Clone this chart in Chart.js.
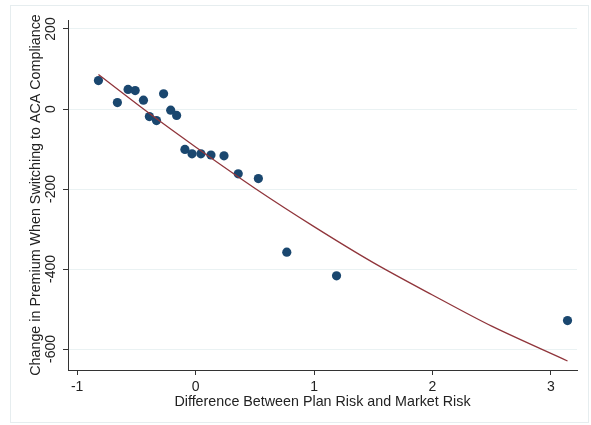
<!DOCTYPE html>
<html>
<head>
<meta charset="utf-8">
<script src="https://cdn.jsdelivr.net/npm/chart.js@4/dist/chart.umd.min.js"></script>
<style>
  html, body { margin: 0; padding: 0; background: #fff; }
  #wrap { width: 591px; height: 425px; }
</style>
</head>
<body>
<div id="wrap"><canvas id="chart"></canvas></div>
<script>
// tick labels
const xTicks = [-1, 0, 1, 2, 3];
const yTicks = [-600, -400, -200, 0, 200];

// binned scatter: difference between plan risk and market risk vs premium change
const riskDiff = [-0.82, -0.66, -0.57, -0.51, -0.44, -0.39, -0.33, -0.27, -0.21, -0.16,
  -0.09, -0.03, 0.045, 0.13, 0.24, 0.36, 0.53, 0.77, 1.19, 3.14];
const premiumChange = [71, 16, 49, 46, 22, -19, -29, 38, -3, -16,
  -101, -112, -112, -115, -117, -162, -174, -358, -417, -529];

// fitted curve
const fitX = [-0.82, -0.4, 0, 0.5, 1, 1.5, 2, 2.5, 3.14];
const fitY = [86, -9, -95, -198, -294, -384, -465, -543, -630];

const font = 'Liberation Sans, Arial, sans-serif';

const toPoints = (xs, ys) => xs.map((x, i) => ({ x, y: ys[i] }));

const decor = {
  id: 'decor',
  beforeDraw(chart) {
    const ctx = chart.ctx;
    ctx.save();
    ctx.strokeStyle = '#e6edef';
    ctx.lineWidth = 1;
    ctx.strokeRect(10.5, 5.5, 578, 417);
    ctx.restore();
  },
  afterDraw(chart) {
    // vertical y tick labels, as in the original
    const ctx = chart.ctx;
    const y = chart.scales.y;
    ctx.save();
    ctx.fillStyle = '#222';
    ctx.font = '14px ' + font;
    ctx.textAlign = 'center';
    ctx.textBaseline = 'middle';
    yTicks.forEach((v) => {
      ctx.save();
      ctx.translate(51, y.getPixelForValue(v));
      ctx.rotate(-Math.PI / 2);
      ctx.fillText(String(v), 0, 0);
      ctx.restore();
    });
    ctx.restore();
  }
};

new Chart(document.getElementById('chart'), {
  type: 'scatter',
  data: {
    datasets: [
      {
        type: 'line',
        data: toPoints(fitX, fitY),
        borderColor: '#90353b',
        borderWidth: 1.3,
        pointRadius: 0,
        fill: false,
        tension: 0.3
      },
      {
        data: toPoints(riskDiff, premiumChange),
        backgroundColor: '#1a476f',
        borderWidth: 0,
        pointRadius: 4.6
      }
    ]
  },
  options: {
    responsive: true,
    maintainAspectRatio: false,
    animation: false,
    plugins: { legend: { display: false }, tooltip: { enabled: false } },
    layout: { padding: { top: 20, right: 14, left: 0, bottom: 0 } },
    scales: {
      x: {
        type: 'linear',
        min: -1.077,
        max: 3.22,
        afterBuildTicks: (s) => { s.ticks = xTicks.map((v) => ({ value: v })); },
        afterFit: (s) => { s.height = 55; },
        grid: { display: true, drawOnChartArea: false, tickLength: 5, tickColor: '#333', color: '#333' },
        border: { color: '#333', width: 1 },
        ticks: { color: '#222', font: { family: font, size: 14 }, padding: 4, maxRotation: 0 },
        title: {
          display: true,
          text: 'Difference Between Plan Risk and Market Risk',
          color: '#222',
          font: { family: font, size: 14.3 },
          padding: { top: 0, bottom: 14 }
        }
      },
      y: {
        type: 'linear',
        min: -652.5,
        max: 222.5,
        afterBuildTicks: (s) => { s.ticks = yTicks.map((v) => ({ value: v })); },
        afterFit: (s) => { s.width = 68; },
        grid: { color: '#eaf2f3', lineWidth: 1, tickLength: 5, tickColor: '#333' },
        border: { color: '#333', width: 1 },
        ticks: { display: false },
        title: {
          display: true,
          text: 'Change in Premium When Switching to ACA Compliance',
          color: '#222',
          font: { family: font, size: 14.3 },
          padding: { top: 27, bottom: 0 }
        }
      }
    }
  },
  plugins: [decor]
});
</script>
</body>
</html>
